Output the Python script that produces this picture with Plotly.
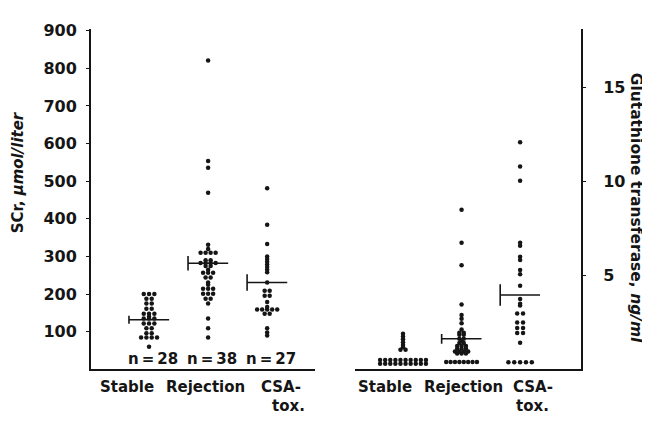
import plotly.graph_objects as go

# ---------------- data ----------------
categories = ["Stable", "Rejection", "CSA-tox."]
n_labels = ["n\u2009=\u200928", "n\u2009=\u200938", "n\u2009=\u200927"]

scr_stable = [200, 200, 200, 188, 188, 175, 175, 161, 161, 148, 148, 148, 140, 135, 135, 135,
              122, 122, 122, 109, 109, 96, 96, 85, 85, 85, 85, 60]
scr_rejection = [821, 554, 536, 469, 331, 320, 310, 310, 310, 310, 290, 290, 283, 283, 283, 283,
                 275, 275, 265, 257, 257, 257, 244, 244, 231, 225, 214, 214, 214, 201, 201, 201,
                 188, 188, 175, 135, 109, 85]
scr_csa = [481, 384, 333, 300, 293, 286, 279, 272, 265, 258, 231, 209, 209, 196, 196, 179, 166,
           159, 159, 159, 159, 159, 148, 148, 109, 98, 90]

gst_stable = [1.9, 1.75, 1.6, 1.45, 1.3, 1.18, 1.04, 1.04] + [0.5] * 10 + [0.3] * 10
gst_rejection = [8.5, 6.75, 5.54, 3.45, 2.9, 2.7, 2.46, 2.13, 1.95, 1.95, 1.85, 1.85, 1.63, 1.63,
                 1.5, 1.4, 1.4, 1.25, 1.25, 1.25, 1.1, 1.1, 1.1, 0.95, 0.95, 0.95, 0.95,
                 0.85, 0.85, 0.85] + [0.4] * 8
gst_csa = [12.1, 10.8, 10.05, 6.75, 6.58, 6.0, 5.83, 5.3, 5.07, 4.46, 3.75, 3.5, 3.4,
           2.98, 2.98, 2.5, 2.5, 2.2, 2.2, 1.94, 1.94, 1.42] + [0.38] * 5

scr_median = [132, 282, 231]
scr_cap = [21, 39, 44]
gst_median = [None, 1.63, 3.96]
gst_cap = [None, 0.52, 1.15]

scr_ticks = [100, 200, 300, 400, 500, 600, 700, 800, 900]
gst_ticks = [5, 10, 15]

# ---------------- helpers ----------------
W, H = 642, 414          # page body has an 8px margin
OFF = 8


def px(x):
    return (x - OFF) / W


def py(y):
    return (H - (y - OFF)) / H


def swarm(values, center, spacing):
    groups = {}
    for v in values:
        groups[v] = groups.get(v, 0) + 1
    xs, ys = [], []
    for v, cnt in groups.items():
        for k in range(cnt):
            xs.append(center + (k - (cnt - 1) / 2) * spacing)
            ys.append(v)
    return xs, ys


FONT = "DejaVu Sans, Liberation Sans, Arial, sans-serif"
INK = "#151515"

fig = go.Figure()

left_sets = [scr_stable, scr_rejection, scr_csa]
right_sets = [gst_stable, gst_rejection, gst_csa]
left_spacing = [0.09, 0.085, 0.085]
right_spacing = [0.087, 0.075, 0.1]

for i, vals in enumerate(left_sets):
    xs, ys = swarm(vals, i, left_spacing[i])
    fig.add_trace(go.Scatter(x=xs, y=ys, mode="markers", xaxis="x", yaxis="y",
                             marker=dict(size=4.5, color=INK), showlegend=False,
                             name=categories[i]))
for i, vals in enumerate(right_sets):
    xs, ys = swarm(vals, i, right_spacing[i])
    fig.add_trace(go.Scatter(x=xs, y=ys, mode="markers", xaxis="x2", yaxis="y2",
                             marker=dict(size=4.5, color=INK), showlegend=False,
                             name=categories[i]))

shapes = []
half = 0.34
for i, (m, c) in enumerate(zip(scr_median, scr_cap)):
    shapes.append(dict(type="line", xref="x", yref="y", x0=i - half, x1=i + half, y0=m, y1=m,
                       line=dict(color=INK, width=1.6)))
    shapes.append(dict(type="line", xref="x", yref="y", x0=i - half, x1=i - half,
                       y0=m - c / 2, y1=m + c / 2, line=dict(color=INK, width=1.6)))
for i, (m, c) in enumerate(zip(gst_median, gst_cap)):
    if m is None:
        continue
    shapes.append(dict(type="line", xref="x2", yref="y2", x0=i - half, x1=i + half, y0=m, y1=m,
                       line=dict(color=INK, width=1.6)))
    shapes.append(dict(type="line", xref="x2", yref="y2", x0=i - half, x1=i - half,
                       y0=m - c / 2, y1=m + c / 2, line=dict(color=INK, width=1.6)))

annotations = []
# n labels
for i, t in enumerate(n_labels):
    annotations.append(dict(text=t, x=i + 0.06, xref="x", y=py(358), yref="paper",
                            showarrow=False, font=dict(family=FONT, size=15, color=INK, weight="bold"),
                            xanchor="center", yanchor="middle"))
# category labels
label_off_left = [-0.37, 0.95, 2.24]
label_off_right = [-0.31, 1.03, 2.22]
tox_off = [2.36, 2.21]
first_lines = ["Stable", "Rejection", "CSA-"]
for ax, offs, tx in (("x", label_off_left, tox_off[0]), ("x2", label_off_right, tox_off[1])):
    for j, t in enumerate(first_lines):
        annotations.append(dict(text=t, x=offs[j], xref=ax, y=py(386), yref="paper", showarrow=False,
                                font=dict(family=FONT, size=15, color=INK, weight="bold"),
                                xanchor="center", yanchor="middle"))
    annotations.append(dict(text="tox.", x=tx, xref=ax, y=py(406), yref="paper", showarrow=False,
                            font=dict(family=FONT, size=15, color=INK, weight="bold"),
                            xanchor="center", yanchor="middle"))
# axis titles
annotations.append(dict(text="SCr, <i>μmol/liter</i>", x=px(18), xref="paper", y=py(168), yref="paper",
                        textangle=-90, showarrow=False,
                        font=dict(family=FONT, size=15, color=INK, weight="bold"),
                        xanchor="center", yanchor="middle"))
annotations.append(dict(text="Glutathione transferase, <i>ng/ml</i>", x=px(636), xref="paper", y=py(204),
                        yref="paper", textangle=90, showarrow=False,
                        font=dict(family=FONT, size=15.5, color=INK, weight="bold"),
                        xanchor="center", yanchor="middle"))

ydom = [py(368.5), py(22)]
fig.update_layout(
    width=W, height=H,
    margin=dict(l=0, r=0, t=0, b=0),
    paper_bgcolor="white", plot_bgcolor="white",
    xaxis=dict(domain=[px(91), px(315)], range=[-0.983, 2.81], showgrid=False, zeroline=False,
               showticklabels=False, ticks="", showline=True, linecolor=INK, linewidth=2,
               anchor="y"),
    yaxis=dict(domain=ydom, range=[0, 905], showgrid=False, zeroline=False, tickvals=scr_ticks,
               ticks="outside", ticklen=3, tickcolor=INK, showline=True, linecolor=INK, linewidth=2,
               tickfont=dict(family=FONT, size=16, color=INK, weight="bold"),
               ticklabelstandoff=6, anchor="x"),
    xaxis2=dict(domain=[px(355), px(581)], range=[-0.82, 3.04], showgrid=False, zeroline=False,
                showticklabels=False, ticks="", showline=True, linecolor=INK, linewidth=2,
                anchor="y2"),
    yaxis2=dict(domain=ydom, range=[0, 18.14], side="right", showgrid=False, zeroline=False,
                tickvals=gst_ticks, ticks="outside", ticklen=3, tickcolor=INK, showline=True,
                linecolor=INK, linewidth=2,
                tickfont=dict(family=FONT, size=16, color=INK, weight="bold"),
                ticklabelstandoff=14, anchor="x2"),
    shapes=shapes,
    annotations=annotations,
)

fig.write_html("out.html")
